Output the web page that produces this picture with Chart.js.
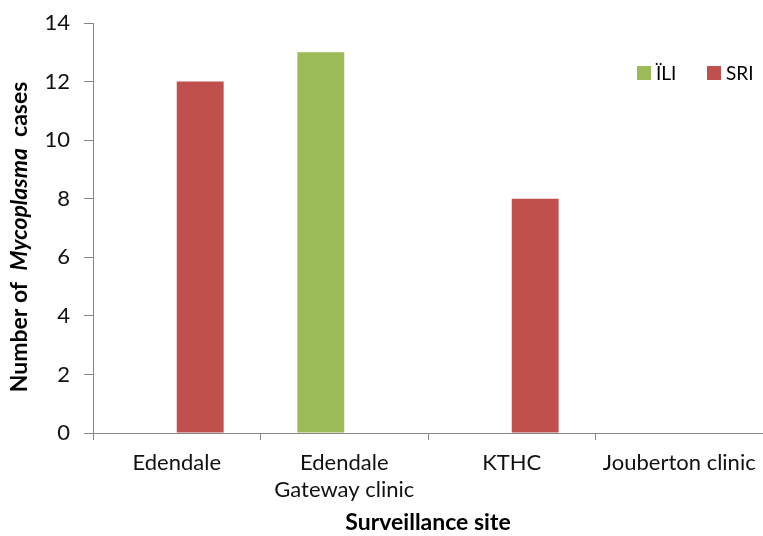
<!DOCTYPE html>
<html>
<head>
<meta charset="utf-8">
<script src="https://cdn.jsdelivr.net/npm/chart.js@4"></script>
<style>
  html, body { margin: 0; padding: 0; background: #fff; }
  #wrap { width: 763px; height: 536px; position: relative; }
</style>
</head>
<body>
<div id="wrap"><canvas id="c" width="763" height="536"></canvas></div>
<script>
// Surveillance sites and Mycoplasma case counts per syndrome
const sites = [["Edendale"], ["Edendale", "Gateway clinic"], ["KTHC"], ["Jouberton clinic"]];
const iliCases = [0, 13, 0, 0];
const sriCases = [12, 0, 8, 0];
const yTicks = [0, 2, 4, 6, 8, 10, 12, 14];

const FONT = "Lato, 'Liberation Sans', sans-serif";
const AXIS_GREY = "#868686";

// Axis titles: y title has an italic genus name in the middle
const axisTitles = {
  id: "axisTitles",
  afterDraw(chart) {
    const ctx = chart.ctx;
    const area = chart.chartArea;
    ctx.save();
    ctx.fillStyle = "#000";
    ctx.textBaseline = "middle";
    // x title
    ctx.font = "bold 23px " + FONT;
    ctx.textAlign = "center";
    ctx.fillText("Surveillance site", (area.left + area.right) / 2, 523);
    // y title, rotated
    const parts = [
      { t: "Number of  ", f: "bold 23px " + FONT },
      { t: "Mycoplasma", f: "italic bold 23px " + FONT },
      { t: "  cases", f: "bold 23px " + FONT }
    ];
    let total = 0;
    parts.forEach(p => { ctx.font = p.f; p.w = ctx.measureText(p.t).width; total += p.w; });
    ctx.translate(20, 237);
    ctx.rotate(-Math.PI / 2);
    ctx.textAlign = "left";
    let x = -total / 2;
    parts.forEach(p => { ctx.font = p.f; ctx.fillText(p.t, x, 0); x += p.w; });
    ctx.restore();
  }
};

// Legend drawn inside the plot area, top right
const insideLegend = {
  id: "insideLegend",
  afterDraw(chart) {
    const ctx = chart.ctx;
    ctx.save();
    ctx.font = "19px " + FONT;
    ctx.textBaseline = "middle";
    ctx.textAlign = "left";
    const y = 73;
    const items = [{ x: 637 }, { x: 707 }];
    chart.data.datasets.forEach((ds, i) => {
      const it = items[i];
      ctx.fillStyle = ds.backgroundColor;
      ctx.fillRect(it.x, y - 7, 14, 14);
      ctx.fillStyle = "#000";
      ctx.fillText(ds.label, it.x + 19, y + 1);
    });
    ctx.restore();
  }
};

new Chart(document.getElementById("c"), {
  type: "bar",
  data: {
    labels: sites,
    datasets: [
      { label: "ÏLI", data: iliCases, backgroundColor: "#9BBB59", borderWidth: 0 },
      { label: "SRI", data: sriCases, backgroundColor: "#C0504D", borderWidth: 0 }
    ]
  },
  options: {
    responsive: false,
    animation: false,
    events: [],
    categoryPercentage: 0.56,
    barPercentage: 1.0,
    layout: { autoPadding: false, padding: { left: 0, right: 0, top: 23, bottom: 0 } },
    plugins: { legend: { display: false }, tooltip: { enabled: false } },
    scales: {
      x: {
        offset: true,
        grid: { offset: true, drawOnChartArea: false, drawTicks: true, tickLength: 7, color: AXIS_GREY },
        border: { color: AXIS_GREY, width: 1 },
        ticks: { color: "#111", font: { family: FONT, size: 22, lineHeight: 1.23 }, padding: 9, maxRotation: 0, autoSkip: false },
        afterFit(s) { s.height = 103; s.paddingLeft = 0; s.paddingRight = 0; }
      },
      y: {
        min: 0, max: 14,
        afterBuildTicks(s) { s.ticks = yTicks.map(v => ({ value: v })); },
        grid: { drawOnChartArea: false, drawTicks: true, tickLength: 9, color: AXIS_GREY },
        border: { color: AXIS_GREY, width: 1 },
        ticks: { color: "#111", font: { family: FONT, size: 22 }, padding: 14 },
        afterFit(s) { s.width = 93; s.paddingTop = 0; s.paddingBottom = 0; }
      }
    }
  },
  plugins: [axisTitles, insideLegend]
});
</script>
</body>
</html>
